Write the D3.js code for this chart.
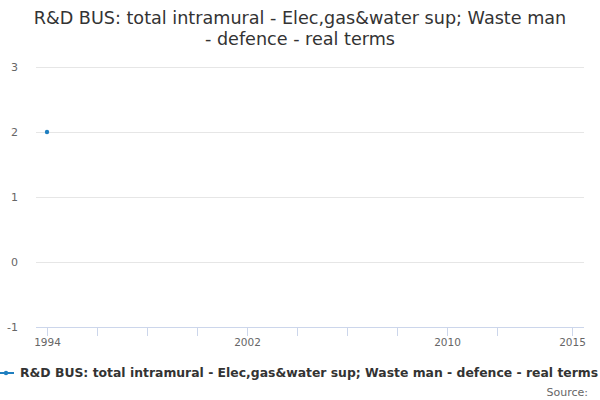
<!DOCTYPE html>
<html><head><meta charset="utf-8">
<script src="https://cdn.jsdelivr.net/npm/d3@7"></script>
<style>body{margin:0;background:#fff;}svg{display:block;font-family:"DejaVu Sans",Verdana,sans-serif;}</style>
</head><body>
<svg id="c" width="600" height="400"></svg>
<script>
const titleLines = ["R&D BUS: total intramural - Elec,gas&water sup; Waste man", "- defence - real terms"];
const seriesName = "R&D BUS: total intramural - Elec,gas&water sup; Waste man - defence - real terms";
const years = [1994];
const values = [2];
const yTicks = [-1, 0, 1, 2, 3];
const xTicks = [1994, 1996, 1998, 2000, 2002, 2004, 2006, 2008, 2010, 2012, 2015];
const xLabels = [1994, 2002, 2010, 2015];
const color = "#1f7fc0";

const svg = d3.select("#c");
const x = d3.scaleLinear().domain([1993.56, 2015.48]).range([36, 584]);
const y = d3.scaleLinear().domain([-1, 3]).range([327, 67]);

svg.append("g").selectAll("text").data(titleLines).join("text")
  .attr("x", 300).attr("y", (d, i) => 24 + i * 21)
  .attr("text-anchor", "middle").attr("font-size", 17.6).attr("fill", "#333").text(d => d);

// grid
svg.append("g").selectAll("line").data(yTicks.filter(d => d !== -1)).join("line")
  .attr("x1", 36).attr("x2", 584).attr("y1", d => y(d)).attr("y2", d => y(d))
  .attr("stroke", "#e6e6e6").attr("stroke-width", 1).attr("shape-rendering", "crispEdges");

svg.append("g").selectAll("text").data(yTicks).join("text")
  .attr("x", 18).attr("y", d => y(d) + 4).attr("text-anchor", "end")
  .attr("font-size", 11).attr("fill", "#666").text(d => d);

// x axis
const xa = svg.append("g").attr("transform", "translate(0,327)")
  .call(d3.axisBottom(x).tickValues(xTicks).tickSize(9).tickFormat(d => xLabels.includes(d) ? String(d) : ""));
xa.select(".domain").attr("stroke", "#ccd6eb").attr("d", "M36,0.5H584");
xa.selectAll(".tick line").attr("stroke", "#ccd6eb").attr("y1", 0).attr("y2", 9);
xa.selectAll(".tick text").attr("font-size", 10.5).attr("fill", "#666").attr("font-family", "DejaVu Sans, sans-serif").attr("dy", 0).attr("y", 19);

// points
svg.append("path").datum(years.map((d, i) => [d, values[i]]))
  .attr("fill", "none").attr("stroke", color).attr("stroke-width", 2)
  .attr("d", d3.line().x(d => x(d[0])).y(d => y(d[1])));
svg.append("g").selectAll("circle").data(years.map((d, i) => [d, values[i]])).join("circle")
  .attr("cx", d => x(d[0])).attr("cy", d => y(d[1])).attr("r", 2.2).attr("fill", color);

// legend
svg.append("line").attr("x1", 0).attr("x2", 14).attr("y1", 373).attr("y2", 373)
  .attr("stroke", color).attr("stroke-width", 2);
svg.append("circle").attr("cx", 6).attr("cy", 373).attr("r", 2.2).attr("fill", color);
svg.append("text").attr("x", 20).attr("y", 377).attr("font-size", 12.4).attr("font-weight", "bold")
  .attr("fill", "#333").text(seriesName);

svg.append("text").attr("x", 588).attr("y", 396).attr("text-anchor", "end")
  .attr("font-size", 11).attr("fill", "#666").text("Source:");
</script>
</body></html>
